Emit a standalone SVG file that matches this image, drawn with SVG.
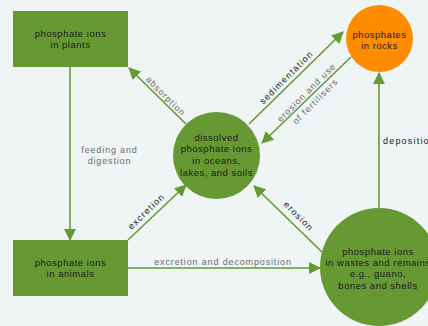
<svg xmlns="http://www.w3.org/2000/svg" width="428" height="326" viewBox="0 0 428 326">
<style>
.bg{fill:#eff5f5}
.node{fill:#669933}
.rock{fill:#ff8c00}
.ln{stroke:#669933;stroke-width:1.6;fill:none}
.nt{font-family:"Liberation Sans",Arial,sans-serif;font-size:9.5px;fill:#1c1c1c;text-anchor:middle;letter-spacing:0.5px}
.lg{font-family:"Liberation Sans",Arial,sans-serif;font-size:9px;fill:#6b6b6b;text-anchor:middle;letter-spacing:0.85px}
.lr{font-family:"Liberation Sans",Arial,sans-serif;font-size:9px;fill:#6b6b6b;text-anchor:middle;letter-spacing:1px}
.ld{font-family:"Liberation Sans",Arial,sans-serif;font-size:9px;fill:#222;text-anchor:middle;letter-spacing:1.2px}
</style>
<defs>
<marker id="ah" markerUnits="userSpaceOnUse" markerWidth="12" markerHeight="12" refX="11" refY="6" orient="auto">
<path d="M0,0 L12,6 L0,12 z" fill="#669933"/>
</marker>
</defs>
<rect class="bg" x="0" y="0" width="428" height="326"/>
<g id="connectors">
<line class="ln" x1="186" y1="124" x2="129" y2="68" marker-end="url(#ah)"/>
<line class="ln" x1="70" y1="67" x2="70" y2="240" marker-end="url(#ah)"/>
<line class="ln" x1="128" y1="240" x2="186" y2="185" marker-end="url(#ah)"/>
<line class="ln" x1="128" y1="268" x2="320" y2="268" marker-end="url(#ah)"/>
<line class="ln" x1="322" y1="252" x2="254" y2="186" marker-end="url(#ah)"/>
<line class="ln" x1="249" y1="124" x2="343" y2="32" marker-end="url(#ah)"/>
<line class="ln" x1="351" y1="57" x2="262" y2="143" marker-end="url(#ah)"/>
<line class="ln" x1="379" y1="209" x2="379" y2="73" marker-end="url(#ah)"/>
<text class="lr" transform="translate(166,96) rotate(45)" y="3.5">absorption</text>
<text class="lg" x="109.5" y="153">feeding and</text>
<text class="lg" x="109.5" y="164">digestion</text>
<text class="ld" transform="translate(146,211) rotate(-44)" y="3.5">excretion</text>
<text class="lg" x="223" y="264.5">excretion and decomposition</text>
<text class="ld" transform="translate(299,216) rotate(45)" y="3.5">erosion</text>
<text class="ld" transform="translate(286,77) rotate(-45)" y="3.5">sedimentation</text>
<text class="lr" transform="translate(310,96) rotate(-45)" y="-2">erosion and use</text>
<text class="lr" transform="translate(310,96) rotate(-45)" y="10.5">of fertilisers</text>
<text class="ld" x="383" y="144" style="text-anchor:start">deposition</text>
</g>
<g id="plants">
<rect class="node" x="13" y="11" width="115" height="56"/>
<text class="nt" x="70.5" y="36.5">phosphate ions</text>
<text class="nt" x="70.5" y="47.5">in plants</text>
</g>
<g id="animals">
<rect class="node" x="13" y="240" width="115" height="56"/>
<text class="nt" x="70.5" y="265.5">phosphate ions</text>
<text class="nt" x="70.5" y="276.5">in animals</text>
</g>
<g id="dissolved">
<circle class="node" cx="216.5" cy="155.5" r="43.5"/>
<text class="nt" x="216.5" y="140.5">dissolved</text>
<text class="nt" x="216.5" y="152.3">phosphate ions</text>
<text class="nt" x="216.5" y="164">in oceans,</text>
<text class="nt" x="216.5" y="175.5">lakes, and soils</text>
</g>
<g id="rocks">
<circle class="rock" cx="379.5" cy="38.5" r="33.5"/>
<text class="nt" x="379.5" y="37.5">phosphates</text>
<text class="nt" x="379.5" y="48.5">in rocks</text>
</g>
<g id="wastes">
<circle class="node" cx="379" cy="267" r="59"/>
<text class="nt" x="378" y="254.7">phosphate ions</text>
<text class="nt" x="378" y="265.8">in wastes and remains</text>
<text class="nt" x="378" y="277">e.g., guano,</text>
<text class="nt" x="378" y="288.7">bones and shells</text>
</g>
</svg>
